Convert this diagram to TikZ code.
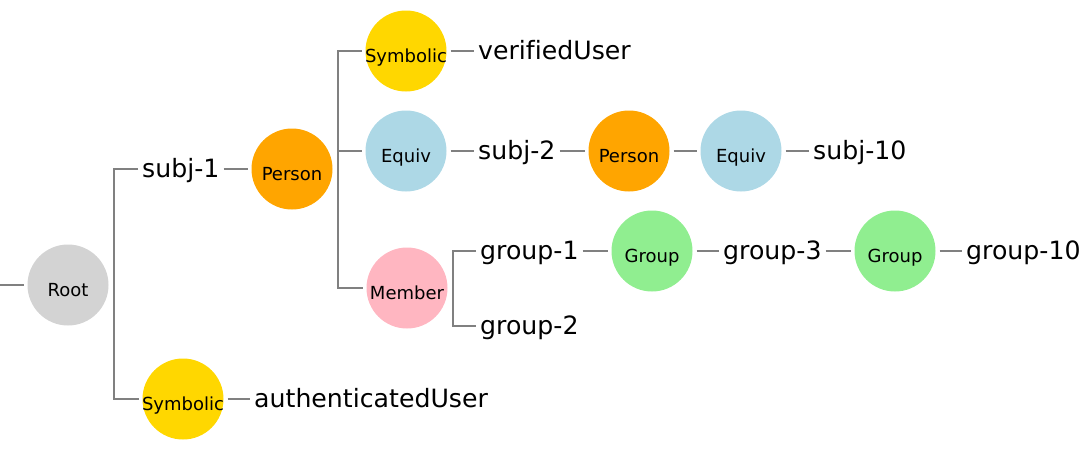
\documentclass[tikz,border=0pt]{standalone}
\usepackage{fontspec}
\setmainfont[Ligatures=NoCommon]{DejaVu Sans}
\usetikzlibrary{calc}
\definecolor{rootgray}{HTML}{D3D3D3}
\definecolor{personorange}{HTML}{FFA500}
\definecolor{symgold}{HTML}{FFD700}
\definecolor{equivblue}{HTML}{ADD8E6}
\definecolor{memberpink}{HTML}{FFB6C1}
\definecolor{groupgreen}{HTML}{90EE90}
\definecolor{linegray}{HTML}{808080}

\begin{document}
\begin{tikzpicture}[x=1pt,y=-1pt,
    kind/.style={circle,fill=#1,minimum size=81pt,inner sep=0pt,outer sep=4pt,
      font=\fontsize{18}{18}\selectfont,text height=22pt,text depth=0pt,
      execute at begin node={\hbox to 0pt\bgroup\hss},
      execute at end node={\hss\egroup}},
    leaf/.style={anchor=west,inner sep=4pt,font=\fontsize{25.2}{25.2}\selectfont,
      text height=17.8pt,text depth=0pt},
    link/.style={draw=linegray,line width=2pt}]
      \useasboundingbox (0,0) rectangle (1087,451);

      \node[kind=rootgray] (root) at (68,285) {Root};
      \node[leaf] (subj1) at (138,169) {subj-1};
      \node[kind=personorange] (person1) at (292,169) {Person};
      \node[kind=symgold] (symbolic1) at (183,399) {Symbolic};
      \node[leaf] (authuser) at (250,399) {authenticatedUser};

      \node[kind=symgold] (symbolic2) at (406,51) {Symbolic};
      \node[leaf] (verified) at (474,51) {verifiedUser};
      \node[kind=equivblue] (equiv1) at (406,151) {Equiv};
      \node[leaf] (subj2) at (474,151) {subj-2};
      \node[kind=personorange] (person2) at (629,151) {Person};
      \node[kind=equivblue] (equiv2) at (741,151) {Equiv};
      \node[leaf] (subj10) at (809,151) {subj-10};

      \node[kind=memberpink] (member) at (407,288) {Member};
      \node[leaf] (group1) at (476,251) {group-1};
      \node[leaf] (group2) at (476,326) {group-2};
      \node[kind=groupgreen] (groupnode1) at (652,251) {Group};
      \node[leaf] (group3) at (719,251) {group-3};
      \node[kind=groupgreen] (groupnode2) at (895,251) {Group};
      \node[leaf] (group10) at (962,251) {group-10};

      \coordinate (start) at (0,285);
      \coordinate (rootfork) at (114,285);
      \coordinate (personfork) at (338,169);
      \coordinate (memberfork) at (453,288);

      \draw[link] (start) -- (root);
      \draw[link] (subj1) -| (rootfork) |- (symbolic1);
      \draw[link] (subj1) -- (person1);
      \draw[link] (symbolic1) -- (authuser);
      \draw[link] (symbolic2) -| (personfork) |- (member);
      \draw[link] (personfork |- equiv1) -- (equiv1);
      \draw[link] (symbolic2) -- (verified);
      \draw[link] (equiv1) -- (subj2) -- (person2) -- (equiv2) -- (subj10);
      \draw[link] (group1) -| (memberfork) |- (group2);
      \draw[link] (group1) -- (groupnode1) -- (group3) -- (groupnode2) -- (group10);
    \end{tikzpicture}
\end{document}
